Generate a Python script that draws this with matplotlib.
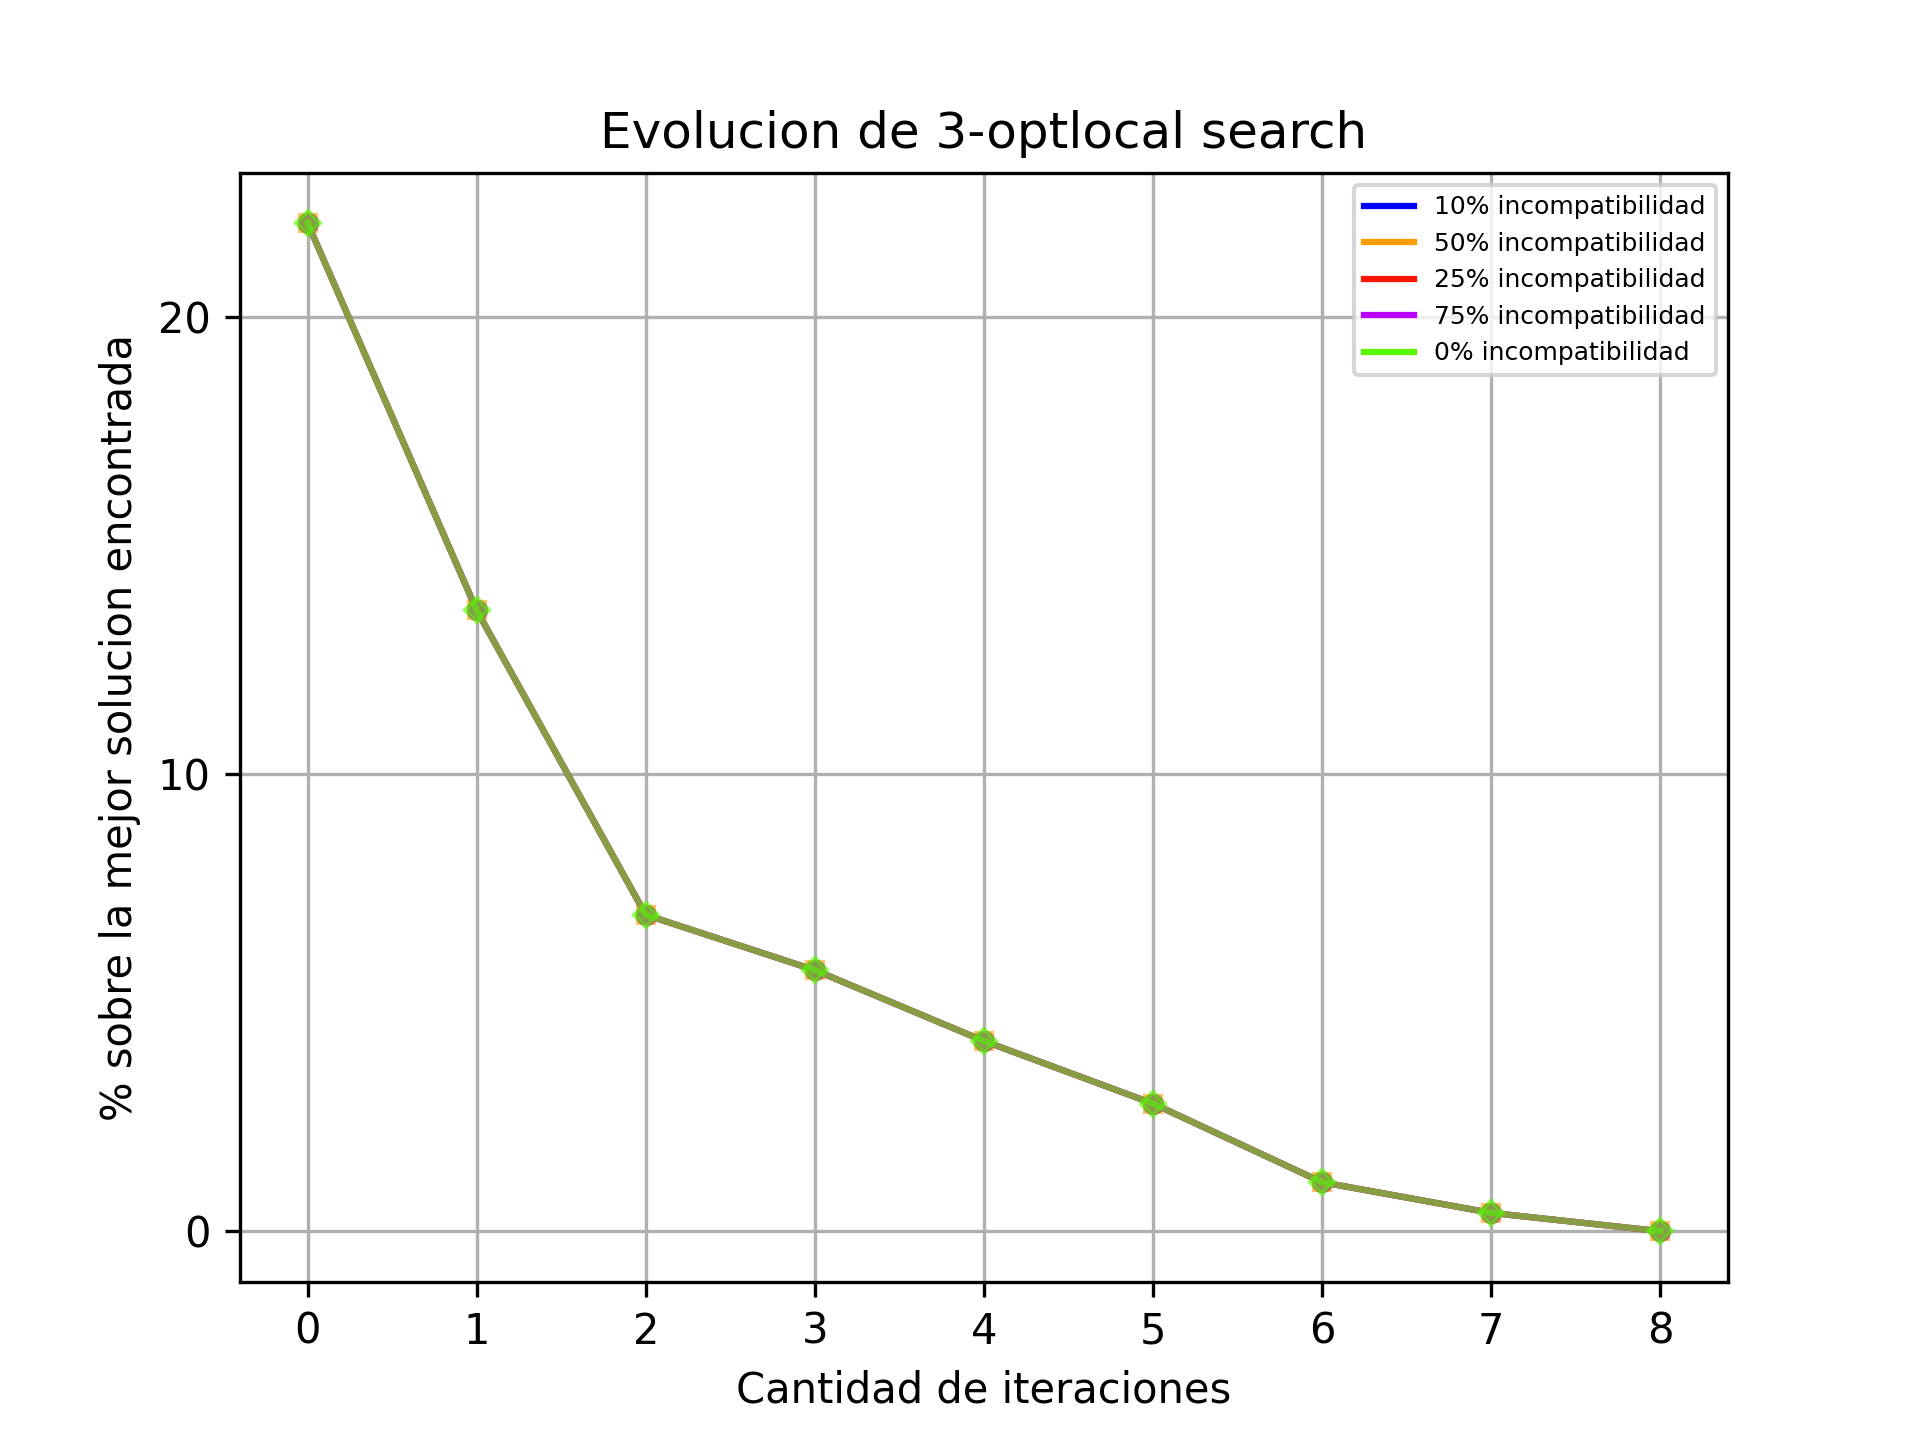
import numpy as np
import matplotlib
matplotlib.use('Agg')
import matplotlib.pyplot as plt
from matplotlib.lines import Line2D
from matplotlib.ticker import MultipleLocator

iteraciones = [0, 1, 2, 3, 4, 5, 6, 7, 8]
porcentaje = [22.05, 13.58, 6.92, 5.71, 4.16, 2.79, 1.07, 0.40, 0.0]

etiquetas = ['10% incompatibilidad', '50% incompatibilidad', '25% incompatibilidad',
             '75% incompatibilidad', '0% incompatibilidad']
colores = ['#0000ff', '#ff9c00', '#ff1400', '#bb00ff', '#5af500']
marcadores = ['o', 's', 'o', 'o', 'D']

fig, ax = plt.subplots(figsize=(6.4, 4.8))
for lab, col, mk in zip(etiquetas, colores, marcadores):
    ax.plot(iteraciones, porcentaje, color=col, marker=mk, markersize=4, alpha=0.6)

handles = [Line2D([0], [0], color=c) for c in colores]
ax.legend(handles, etiquetas, loc='upper right', fontsize=6)
ax.yaxis.set_major_locator(MultipleLocator(10))
ax.grid(True)
ax.set_title('Evolucion de 3-optlocal search')
ax.set_xlabel('Cantidad de iteraciones')
ax.set_ylabel('% sobre la mejor solucion encontrada')

fig.savefig('out.png', dpi=300)
